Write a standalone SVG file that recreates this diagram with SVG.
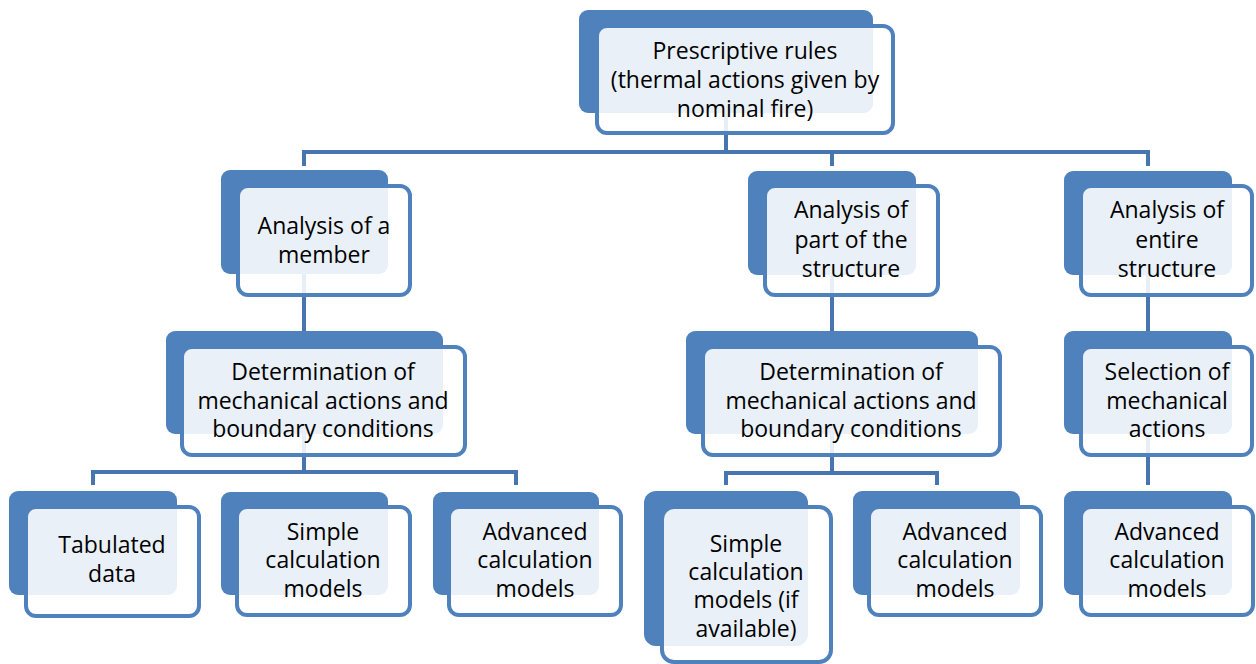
<svg xmlns="http://www.w3.org/2000/svg" width="1256" height="664" viewBox="0 0 1256 664">
<style>
.bk{fill:#4f81bd}
.fr{fill:#ffffff;fill-opacity:0.88;stroke:#4f81bd;stroke-width:4}
.cn{fill:none;stroke:#4675b0;stroke-width:4}
text{font-family:"Open Sans","Liberation Sans",sans-serif;font-size:23px;fill:#000;text-anchor:middle}
</style>
<rect width="1256" height="664" fill="#ffffff"/>
<g id="connectors">
<path class="cn" d="M726,113 V152"/>
<path class="cn" d="M304,166 V152 H1148 V166"/>
<path class="cn" d="M832,152 V166"/>
<path class="cn" d="M304,274 V331"/>
<path class="cn" d="M304,434 V472"/>
<path class="cn" d="M93,485 V472 H516 V485"/>
<path class="cn" d="M832,275 V331"/>
<path class="cn" d="M832,434 V473"/>
<path class="cn" d="M726,485 V473 H937 V485"/>
<path class="cn" d="M1148,275 V331"/>
<path class="cn" d="M1148,434 V485"/>
</g>
<g id="node-prescriptive">
<rect class="bk" x="579" y="10" width="294" height="103" rx="9"/>
<rect class="fr" x="597" y="26" width="296" height="107" rx="10"/>
<text x="745" y="59">Prescriptive rules</text>
<text x="745" y="88">(thermal actions given by</text>
<text x="745" y="117">nominal fire)</text>
</g>
<g id="node-member">
<rect class="bk" x="221" y="170" width="167" height="104" rx="9"/>
<rect class="fr" x="238" y="186" width="172" height="109" rx="10"/>
<text x="324" y="234">Analysis of a</text>
<text x="324" y="263">member</text>
</g>
<g id="node-part">
<rect class="bk" x="748" y="171" width="168" height="104" rx="9"/>
<rect class="fr" x="765" y="186" width="173" height="109" rx="10"/>
<text x="851" y="218">Analysis of</text>
<text x="851" y="248">part of the</text>
<text x="851" y="277">structure</text>
</g>
<g id="node-entire">
<rect class="bk" x="1064" y="171" width="168" height="104" rx="9"/>
<rect class="fr" x="1081" y="186" width="171" height="109" rx="10"/>
<text x="1167" y="218">Analysis of</text>
<text x="1167" y="248">entire</text>
<text x="1167" y="277">structure</text>
</g>
<g id="node-determination-left">
<rect class="bk" x="166" y="331" width="277" height="103" rx="9"/>
<rect class="fr" x="182" y="347" width="283" height="108" rx="10"/>
<text x="323" y="380">Determination of</text>
<text x="323" y="409">mechanical actions and</text>
<text x="323" y="437">boundary conditions</text>
</g>
<g id="node-determination-mid">
<rect class="bk" x="686" y="331" width="292" height="103" rx="9"/>
<rect class="fr" x="703" y="347" width="297" height="108" rx="10"/>
<text x="851" y="380">Determination of</text>
<text x="851" y="409">mechanical actions and</text>
<text x="851" y="437">boundary conditions</text>
</g>
<g id="node-selection">
<rect class="bk" x="1064" y="331" width="168" height="103" rx="9"/>
<rect class="fr" x="1081" y="347" width="171" height="108" rx="10"/>
<text x="1167" y="380">Selection of</text>
<text x="1167" y="409">mechanical</text>
<text x="1167" y="437">actions</text>
</g>
<g id="node-tabulated">
<rect class="bk" x="9" y="491" width="168" height="104" rx="9"/>
<rect class="fr" x="26" y="507" width="173" height="109" rx="10"/>
<text x="112" y="553">Tabulated</text>
<text x="112" y="582">data</text>
</g>
<g id="node-simple-left">
<rect class="bk" x="221" y="492" width="167" height="103" rx="9"/>
<rect class="fr" x="237" y="507" width="173" height="108" rx="10"/>
<text x="323" y="540">Simple</text>
<text x="323" y="568">calculation</text>
<text x="323" y="597">models</text>
</g>
<g id="node-advanced-left">
<rect class="bk" x="433" y="492" width="166" height="103" rx="9"/>
<rect class="fr" x="449" y="507" width="172" height="108" rx="10"/>
<text x="535" y="540">Advanced</text>
<text x="535" y="568">calculation</text>
<text x="535" y="597">models</text>
</g>
<g id="node-simple-mid">
<rect class="bk" x="644" y="491" width="164" height="155" rx="12"/>
<rect class="fr" x="662" y="507" width="169" height="155" rx="12"/>
<text x="746" y="552">Simple</text>
<text x="746" y="580">calculation</text>
<text x="746" y="608">models (if</text>
<text x="746" y="637">available)</text>
</g>
<g id="node-advanced-mid">
<rect class="bk" x="853" y="491" width="167" height="104" rx="9"/>
<rect class="fr" x="869" y="507" width="172" height="108" rx="10"/>
<text x="955" y="540">Advanced</text>
<text x="955" y="568">calculation</text>
<text x="955" y="597">models</text>
</g>
<g id="node-advanced-right">
<rect class="bk" x="1064" y="491" width="168" height="104" rx="9"/>
<rect class="fr" x="1081" y="507" width="172" height="108" rx="10"/>
<text x="1167" y="540">Advanced</text>
<text x="1167" y="568">calculation</text>
<text x="1167" y="597">models</text>
</g>
</svg>
